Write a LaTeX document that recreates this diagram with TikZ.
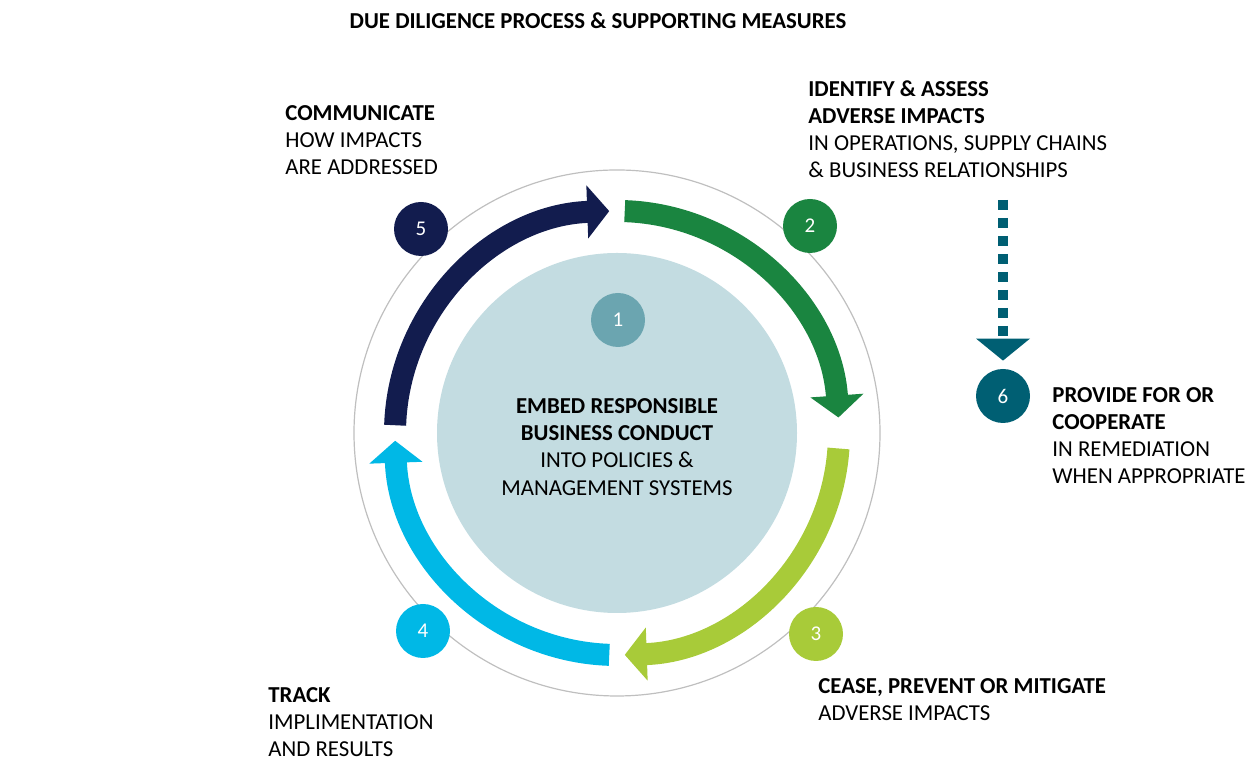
\documentclass[tikz,border=0pt]{standalone}
\usepackage{fontspec}
\setmainfont{Carlito}
\usetikzlibrary{arrows.meta,positioning,calc}
\definecolor{ddgreen}{HTML}{1A8540}
\definecolor{ddlime}{HTML}{A8CB39}
\definecolor{ddcyan}{HTML}{00B8E6}
\definecolor{ddnavy}{HTML}{121C4E}
\definecolor{ddpale}{HTML}{C3DCE1}
\definecolor{ddone}{HTML}{6BA5B0}
\definecolor{ddteal}{HTML}{005F73}
\tikzset{
  stepdot/.style = {circle, minimum size = 27pt, inner sep = 0pt, text = white, font = \fontsize{10.5}{12}\selectfont},
  stepnote/.style = {anchor = north west, align = left, inner sep = 0pt, font = \fontsize{11.4}{13.6}\selectfont},
  ring/.style = {line width = 11pt, -{Triangle[width = 26pt, length = 11pt]}}
}
\begin{document}
\begin{tikzpicture}[x = .5pt, y = .5pt]
    \useasboundingbox (0,0) rectangle (1259,769);
    \coordinate (c) at (617,336);
    % circles
    \draw[gray!50, line width = .6pt] (c) circle[radius = 263];
    \fill[ddpale] (c) circle[radius = 180];
    % ring arrows
    \draw[ring, ddgreen] ($(c)+(88:222)$) arc[start angle = 88, end angle = 4, radius = 222];
    \draw[ring, ddlime] ($(c)+(-4:222)$) arc[start angle = -4, end angle = -88, radius = 222];
    \draw[ring, ddcyan] ($(c)+(-92:222)$) arc[start angle = -92, end angle = -178, radius = 222];
    \draw[ring, ddnavy] ($(c)+(178:222)$) arc[start angle = 178, end angle = 92, radius = 222];
    % numbered steps
    \node[stepdot, fill = ddone] (s1) at (618,449) {1};
    \node[stepdot, fill = ddgreen] (s2) at (810,543) {2};
    \node[stepdot, fill = ddlime] (s3) at (816,135) {3};
    \node[stepdot, fill = ddcyan] (s4) at (423,138) {4};
    \node[stepdot, fill = ddnavy] (s5) at (421,540) {5};
    \node[stepdot, fill = ddteal] (s6) at (1003,373) {6};
    \coordinate (d) at (1003,569);
    \draw[ddteal, line width = 5pt, dash pattern = on 5pt off 4pt,
      -{Triangle[width = 27pt, length = 11pt, line width = 0pt]}] (d) -- ([yshift = 4pt]s6.north);
    % labels
    \node[font = \fontsize{11.4}{13}\selectfont\bfseries] (title) at (598,748) {DUE DILIGENCE PROCESS \& SUPPORTING MEASURES};
    \node[stepnote] (t5) at (285,664) {\textbf{COMMUNICATE}\\HOW IMPACTS\\ARE ADDRESSED};
    \node[stepnote] (t2) at (808,689) {\textbf{IDENTIFY \& ASSESS}\\\textbf{ADVERSE IMPACTS}\\IN OPERATIONS, SUPPLY CHAINS\\\& BUSINESS RELATIONSHIPS};
    \node[stepnote] (t6) at (1052,382) {\textbf{PROVIDE FOR OR}\\\textbf{COOPERATE}\\IN REMEDIATION\\WHEN APPROPRIATE};
    \node[stepnote] (t3) at (818,91) {\textbf{CEASE, PREVENT OR MITIGATE}\\ADVERSE IMPACTS};
    \node[stepnote] (t4) at (268,82) {\textbf{TRACK}\\IMPLIMENTATION\\AND RESULTS};
    \node[align = center, inner sep = 0pt, font = \fontsize{11.4}{13.6}\selectfont] (t1) at (617,322)
      {\textbf{EMBED RESPONSIBLE}\\\textbf{BUSINESS CONDUCT}\\INTO POLICIES \&\\MANAGEMENT SYSTEMS};
\end{tikzpicture}
\end{document}
